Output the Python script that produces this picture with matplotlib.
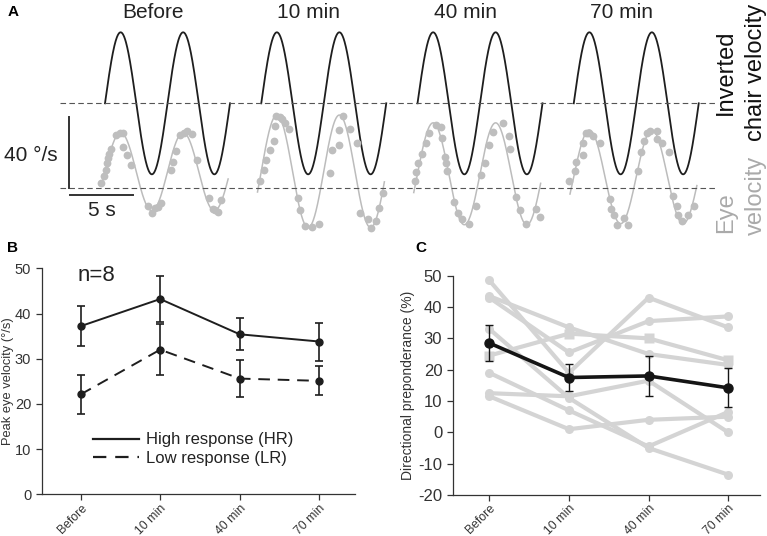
import numpy as np
import matplotlib.pyplot as plt

plt.rcParams['font.family'] = ['Liberation Sans', 'DejaVu Sans']
plt.rcParams['axes.unicode_minus'] = False

# ---- data ----
sessions = ["Before", "10 min", "40 min", "70 min"]

# panel A: sine fits (deg/s) and sampled eye velocity points (time s, deg/s)
chair_amp = 40.0
eye_offset = [9.4, 9.6, 8.2, 6.5]
eye_amp = [22.0, 31.7, 28.7, 26.4]

eye_t = [
    [-0.32, -0.08, 0.05, 0.19, 0.27, 0.35, 0.45, 0.88, 1.2, 1.41, 1.41, 1.79, 2.05,
     3.47, 3.73, 4.03, 4.27, 4.48, 5.28, 5.47, 5.68, 6.0, 6.32, 6.59, 6.93, 7.39,
     8.35, 8.61, 8.8, 9.07, 9.28],
    [-0.07, 0.19, 0.38, 0.73, 0.99, 1.07, 1.21, 1.47, 1.66, 1.93, 2.19, 2.91, 3.07,
     3.52, 4.06, 4.59, 5.53, 5.66, 6.19, 6.19, 6.51, 7.07, 7.66, 7.93, 8.51, 8.78,
     9.21, 9.39, 9.74],
    [-0.23, -0.09, 0.04, 0.36, 0.71, 0.92, 1.45, 1.91, 1.98, 2.17, 2.31, 2.39, 2.92,
     3.24, 3.59, 4.12, 4.71, 5.05, 5.37, 5.72, 6.04, 6.84, 7.32, 7.37, 7.85, 8.17,
     8.71, 9.45, 9.77],
    [-0.35, 0.1, 0.18, 0.71, 0.71, 0.98, 1.17, 1.57, 2.1, 2.9, 2.95, 3.22, 3.49,
     4.02, 4.37, 5.17, 5.38, 5.62, 5.83, 6.1, 6.64, 6.69, 7.03, 7.65, 7.97, 8.23,
     8.37, 8.63, 9.17, 9.62],
]
eye_v = [
    [3.2, 6.9, 10.3, 14.1, 16.9, 19.2, 22.0, 30.0, 31.0, 31.3, 23.4, 18.8, 13.1,
     -10.0, -14.1, -11.3, -10.4, -8.5, 10.3, 15.0, 21.0, 30.0, 31.3, 32.1, 30.6, 15.9,
     -5.6, -11.8, -12.2, -13.2, -6.6],
    [4.1, 10.3, 15.9, 21.6, 26.8, 35.1, 40.9, 40.3, 39.0, 37.0, 33.2, -5.6, -12.2,
     -21.2, -21.6, -20.1, 8.8, 21.6, 24.4, 32.8, 40.7, 33.2, 25.4, -13.7, -17.5, -22.5,
     -18.3, -11.3, -2.5],
    [4.3, 9.4, 14.4, 19.3, 25.7, 31.3, 35.7, 34.4, 28.2, 17.5, 14.1, 9.7, -7.5,
     -14.1, -17.5, -20.1, -10.0, 7.5, 14.1, 24.4, 31.9, 36.6, 29.5, 22.0, -5.1, -12.2,
     -20.1, -11.8, -16.0],
    [4.3, 9.9, 15.0, 18.8, 25.7, 31.0, 31.3, 29.5, 25.7, -6.2, -11.8, -15.0, -20.7,
     -16.9, -20.7, 9.9, 20.6, 26.8, 31.0, 32.5, 32.5, 27.6, 25.7, 20.6, -4.3, -10.0,
     -15.0, -18.3, -15.0, -10.0],
]

# panel B: peak eye velocity (deg/s), mean and error
hr_mean = [37.2, 43.2, 35.4, 33.8]
hr_err = [4.4, 5.0, 3.5, 4.2]
lr_mean = [22.1, 32.0, 25.6, 25.1]
lr_err = [4.3, 5.7, 4.1, 3.2]

# panel C: directional preponderance (%) per subject
dp_subjects = [
    [48.5, 19.0, 43.0, 33.5],
    [43.5, 33.5, 25.0, 21.5],
    [43.0, 25.5, 35.5, 37.0],
    [33.0, 11.0, -5.0, -13.5],
    [24.5, 31.5, 30.0, 23.0],
    [19.0, 7.0, -4.5, 6.5],
    [12.5, 11.5, 16.5, 0.0],
    [11.5, 1.0, 4.0, 5.0],
]
dp_mean = [28.5, 17.5, 18.0, 14.2]
dp_err = [5.7, 4.2, 6.5, 6.2]

W, H = 767, 536
fig = plt.figure(figsize=(W / 100, H / 100), dpi=100)

# ---- panel A ----
axA = fig.add_axes([0, 1 - 240 / H, 1, 240 / H])
axA.set_xlim(-8.4, 52.96)
axA.set_ylim(-77.0, 58.2)
axA.axis("off")

seg_gap = 12.5
period = 5.0
eye_base = -47.9
dark = "#1e1e1e"
gray_curve = "#bcbcbc"
gray_dot = "#bebebe"

for k, name in enumerate(sessions):
    x0 = k * seg_gap
    tc = np.linspace(0, 10, 400)
    axA.plot(x0 + tc, chair_amp * np.sin(2 * np.pi * tc / period), color=dark, lw=1.3)
    te = np.linspace(-0.3, 9.85, 400)
    axA.plot(x0 + te, eye_base + eye_offset[k] + eye_amp[k] * np.sin(2 * np.pi * te / period),
             color=gray_curve, lw=1.1)
    axA.plot(x0 + np.array(eye_t[k]), eye_base + np.array(eye_v[k]), "o",
             color=gray_dot, ms=5.6, mec="none")
    axA.text(x0 + 3.8, 50.9, name, ha="center", va="center", fontsize=15, color="#222")

for yb in (0, eye_base):
    axA.plot([-3.6, 48.9], [yb, yb], color="#555", lw=0.8, ls=(0, (5, 3)))

# scale bars
axA.plot([-2.88, -2.88], [eye_base + 40, eye_base], color="#333", lw=1.4)
axA.plot([-2.8, 2.2], [-51.7, -51.7], color="#333", lw=1.4)
axA.text(-5.95, -29.5, "40 °/s", ha="center", va="center", fontsize=15, color="#222")
axA.text(-0.25, -60.5, "5 s", ha="center", va="center", fontsize=15, color="#222")

axA.text(49.7, 17.6, "Inverted", rotation=90, ha="center", va="center", fontsize=17, color="#111")
axA.text(52.1, 17.6, "chair velocity", rotation=90, ha="center", va="center", fontsize=17, color="#111")
axA.text(49.7, -61.8, "Eye", rotation=90, ha="center", va="center", fontsize=17, color="#aaaaaa")
axA.text(52.1, -51.7, "velocity", rotation=90, ha="center", va="center", fontsize=17, color="#aaaaaa")

fig.text(8 / W, 1 - 12 / H, "A", fontsize=11, fontweight="bold", ha="left", va="center")
fig.text(7 / W, 1 - 248 / H, "B", fontsize=11, fontweight="bold", ha="left", va="center")
fig.text(415 / W, 1 - 248 / H, "C", fontsize=11, fontweight="bold", ha="left", va="center")


def style_axes(ax):
    for s in ("top", "right"):
        ax.spines[s].set_visible(False)
    for s in ("left", "bottom"):
        ax.spines[s].set_color("#333")
        ax.spines[s].set_linewidth(0.9)
    ax.tick_params(direction="out", length=4, width=0.9, color="#333", labelcolor="#333",
                   labelsize=10.5)
    ax.tick_params(axis="x", labelsize=8.8, pad=1.5)
    ax.set_xticks(range(len(sessions)))
    ax.set_xticklabels(sessions, rotation=45, ha="right", rotation_mode="anchor")


# ---- panel B ----
xs = np.arange(len(sessions))
axB = fig.add_axes([41.7 / W, 1 - 494.3 / H, (355 - 41.7) / W, (494.3 - 268.3) / H])
axB.errorbar(xs, hr_mean, yerr=hr_err, color=dark, lw=1.4, marker="o", ms=5,
             capsize=3, elinewidth=1.2, capthick=1.2, label="High response (HR)")
axB.errorbar(xs, lr_mean, yerr=lr_err, color=dark, lw=1.4, ls=(0, (6, 4)), marker="o", ms=5,
             capsize=3, elinewidth=1.2, capthick=1.2, label="Low response (LR)")
axB.set_xlim(-0.49, 3.45)
axB.set_ylim(0, 50)
axB.set_yticks([0, 10, 20, 30, 40, 50])
axB.set_ylabel("Peak eye velocity (°/s)", fontsize=9.3, color="#333", labelpad=1)
style_axes(axB)
axB.text(0.113, 0.97, "n=8", transform=axB.transAxes, fontsize=16, color="#222", va="center")
handles = [plt.Line2D([], [], color=dark, lw=1.6),
           plt.Line2D([], [], color=dark, lw=1.6, ls=(0, (6, 4)))]
axB.legend(handles, ["High response (HR)", "Low response (LR)"], loc="center left",
           bbox_to_anchor=(0.163, 0.2), frameon=False, fontsize=12, handlelength=2.75,
           handletextpad=0.45, labelspacing=0.2, borderaxespad=0, borderpad=0,
           labelcolor="#222")

# ---- panel C ----
axC = fig.add_axes([452.7 / W, 1 - 495 / H, (760 - 452.7) / W, (495 - 275.7) / H])
light = "#d4d4d4"
for i, subj in enumerate(dp_subjects):
    mk = "s" if i == 4 else "o"
    axC.plot(xs, subj, color=light, lw=3, marker=mk, ms=6.5, mec="none", zorder=1)
axC.errorbar(xs, dp_mean, yerr=dp_err, color="#151515", lw=2.6, marker="o", ms=6.5,
             capsize=3, elinewidth=1.0, capthick=1.0, zorder=3)
axC.set_xlim(-0.46, 3.4)
axC.set_ylim(-20, 50)
axC.set_yticks(range(-20, 51, 10))
axC.set_ylabel("Directional preponderance (%)", fontsize=10, color="#333", labelpad=2)
style_axes(axC)
axC.tick_params(axis="y", labelsize=12)

fig.savefig("out.png", dpi=100)
